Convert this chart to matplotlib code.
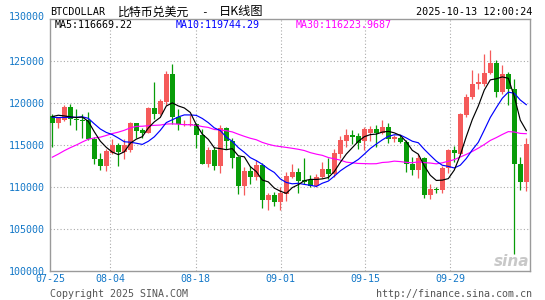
import matplotlib
matplotlib.use('Agg')
import matplotlib.pyplot as plt
import matplotlib.transforms as mtransforms
import numpy as np
import pandas as pd

# ---- data ----
opens = [118450, 117600, 117900, 119450, 118050, 117950, 117900, 115700, 113350, 112450,
         114050, 115000, 114150, 114400, 117550, 116700, 116450, 119350, 118650, 120150,
         123400, 118350, 117300, 117300, 117450, 116200, 112750, 114350, 112450, 117000,
         115500, 113500, 110050, 111850, 111150, 112600, 108350, 108950, 108150, 109150,
         111200, 111800, 110800, 110800, 110100, 111150, 112150, 111500, 113900, 115450,
         116150, 116050, 115450, 116450, 116850, 116450, 117150, 115650, 115850, 115350,
         112700, 112000, 113450, 108950, 109750, 109600, 112200, 114350, 113950, 118550,
         120650, 122300, 122300, 123600, 124700, 121300, 123400, 121700, 112750, 110600]
closes = [117600, 118200, 119500, 118050, 117900, 117850, 115650, 113300, 112450, 114200,
          115000, 114150, 115000, 117550, 116650, 116450, 119350, 118650, 120200, 123450,
          118350, 117500, 117450, 117500, 116150, 112750, 114350, 112450, 117000, 115500,
          113400, 110050, 111850, 111150, 112550, 108350, 108950, 108150, 109300, 111250,
          111800, 110700, 110500, 110100, 111200, 112150, 111500, 114050, 115600, 116150,
          115950, 115250, 116850, 116850, 116450, 117150, 115700, 115950, 115300, 112700,
          112000, 113450, 108950, 109700, 109600, 112200, 114350, 114050, 118650, 120650,
          122300, 122450, 123600, 124700, 121300, 123400, 121650, 112700, 110600, 115100]
highs = [118650, 118350, 119800, 119850, 119300, 118700, 118950, 115900, 114050, 114500,
         115700, 115150, 115650, 117750, 117600, 117000, 119550, 122500, 120400, 123800,
         124600, 119300, 117900, 118500, 117650, 116850, 114700, 114700, 117400, 117100,
         115800, 113700, 112350, 112450, 113150, 112800, 109300, 109400, 110000, 111750,
         112700, 112200, 113450, 111400, 111550, 113000, 113400, 114500, 116100, 116900,
         116800, 116350, 117150, 117250, 117350, 117950, 117600, 116150, 116150, 115600,
         113500, 113900, 113550, 110300, 109950, 112450, 114550, 114850, 118800, 121100,
         123950, 123500, 125800, 126250, 125150, 124500, 123650, 122800, 113500, 115750]
lows = [114750, 117050, 117800, 117300, 116800, 115800, 115550, 112700, 111950, 111850,
        113900, 112450, 113350, 114100, 115750, 115850, 116400, 118050, 118550, 119800,
        117450, 116750, 117200, 117200, 114650, 112650, 112400, 111950, 111650, 114500,
        112200, 109150, 108950, 110300, 110850, 107400, 107250, 107750, 107250, 108300,
        111050, 109300, 110300, 110000, 110000, 111000, 110900, 111100, 113400, 114750,
        115050, 114500, 114400, 115400, 114750, 116250, 115250, 115350, 115150, 111800,
        111400, 111050, 108600, 108550, 109250, 109200, 111600, 113000, 113850, 118350,
        120500, 121600, 122000, 123400, 120650, 121000, 119700, 101950, 109600, 109500]
# closes of the days before the window (needed for the moving averages at the left edge)
prior_closes = [107100, 107300, 107300, 108400, 107100, 105700, 108800, 109600, 108000, 108200,
                109200, 108300, 108900, 111300, 115900, 117500, 117400, 119100, 119800, 117700,
                118700, 119300, 117900, 117900, 117300, 117400, 119900, 118600, 118300]
x_labels = ['07-25', '08-04', '08-18', '09-01', '09-15', '09-29']
y_ticks = [100000, 105000, 110000, 115000, 120000, 125000, 130000]
ma_texts = ['MA5:116669.22', 'MA10:119744.29', 'MA30:116223.9687']

# ---- style ----
W, H = 545, 300
RED = '#f55a5a'
GREEN = '#089c08'
BLUE_TXT = '#1478c8'
MONO = 'DejaVu Sans Mono'
CJK = ['Noto Sans CJK SC', 'DejaVu Sans']

fig = plt.figure(figsize=(W / 100, H / 100), dpi=100)
fig.patch.set_facecolor('white')
ax_left, ax_right, ax_top, ax_bot = 50, 530, 19, 270.5
ax = fig.add_axes([ax_left / W, 1 - ax_bot / H, (ax_right - ax_left) / W, (ax_bot - ax_top) / H])

n = len(closes)
idx = np.arange(n)
step_px = 6.0
x0 = -(52.3 - ax_left) / step_px
ax.set_xlim(x0, x0 + (ax_right - ax_left) / step_px)
ax.set_ylim(y_ticks[0], y_ticks[-1])

o = np.array(opens); c = np.array(closes); h = np.array(highs); l = np.array(lows)
up = c >= o
colors = np.where(up, RED, GREEN)
ax.vlines(idx, l, h, colors=colors, linewidth=0.9, zorder=3)
body_bottom = np.minimum(o, c)
body_h = np.maximum(np.abs(c - o), 60)
ax.bar(idx, body_h, bottom=body_bottom, width=0.82, color=colors, linewidth=0, zorder=4)

all_c = pd.Series(prior_closes + closes, dtype=float)
start = len(prior_closes)
ma5 = all_c.rolling(5).mean().values[start:]
ma10 = all_c.rolling(10).mean().values[start:]
ma30 = all_c.rolling(30).mean().values[start:]
ax.plot(idx, ma30, color='#ff00ff', linewidth=0.85, zorder=5)
ax.plot(idx, ma10, color='#0000ff', linewidth=0.85, zorder=6)
ax.plot(idx, ma5, color='black', linewidth=0.85, zorder=7)

# grid
grid_px = [110.3, 195.5, 280.5, 365.3, 450.3]
tick_pos = [x0] + [x0 + (g - ax_left) / step_px for g in grid_px]
for g in tick_pos[1:]:
    ax.axvline(g, color='#aaaaaa', linewidth=0.8, linestyle=(0, (1, 2)), zorder=1)
for yv in y_ticks[1:-1]:
    ax.axhline(yv, color='#aaaaaa', linewidth=0.8, linestyle=(0, (1, 2)), zorder=1)

ax.set_xticks(tick_pos)
ax.set_xticklabels(x_labels, family=MONO, fontsize=7.2, color=BLUE_TXT)
ax.set_yticks(y_ticks)
ax.set_yticklabels([str(v) for v in y_ticks], family=MONO, fontsize=7.2, color=BLUE_TXT)
ax.tick_params(axis='both', length=0)
ax.tick_params(axis='y', pad=3.5)
ax.tick_params(axis='x', pad=2.5)
# top label sits slightly above the frame
top_lab = ax.get_yticklabels()[-1]
top_lab.set_transform(top_lab.get_transform() + mtransforms.ScaledTranslation(0, 3 / 100, fig.dpi_scale_trans))
for s in ax.spines.values():
    s.set_color('#9a9a9a')
    s.set_linewidth(1.0)

def ftext(x, y, s, **kw):
    fig.text(x / W, 1 - y / H, s, va='center', **kw)

# header
ftext(50, 12, 'BTCDOLLAR', family=MONO, fontsize=7.3, color='black')
ftext(118, 12, '比特币兑美元', family=CJK, fontsize=8.6, color='black')
ftext(201, 12, '-', family=MONO, fontsize=8, color='black')
ftext(219, 12, '日K线图', family=CJK, fontsize=8.8, color='black')
ftext(532, 12, '2025-10-13 12:00:24', family=MONO, fontsize=7.3, color='black', ha='right')

# MA legend texts inside box
ftext(55, 25, ma_texts[0], family=MONO, fontsize=7.2, color='black')
ftext(175.5, 25, ma_texts[1], family=MONO, fontsize=7.2, color='#0000ff')
ftext(296, 25, ma_texts[2], family=MONO, fontsize=7.2, color='#ff00ff')

# footer
ftext(50, 294, 'Copyright 2025 SINA.COM', family=MONO, fontsize=7.2, color='#555555')
ftext(532, 294, 'http://finance.sina.com.cn', family=MONO, fontsize=7.2, color='#555555', ha='right')

# watermark
ftext(512, 262, 'sina', family='DejaVu Sans', fontsize=11, color='#c8c8c8',
      fontweight='bold', fontstyle='italic', ha='center')

fig.savefig('out.png', dpi=100)
